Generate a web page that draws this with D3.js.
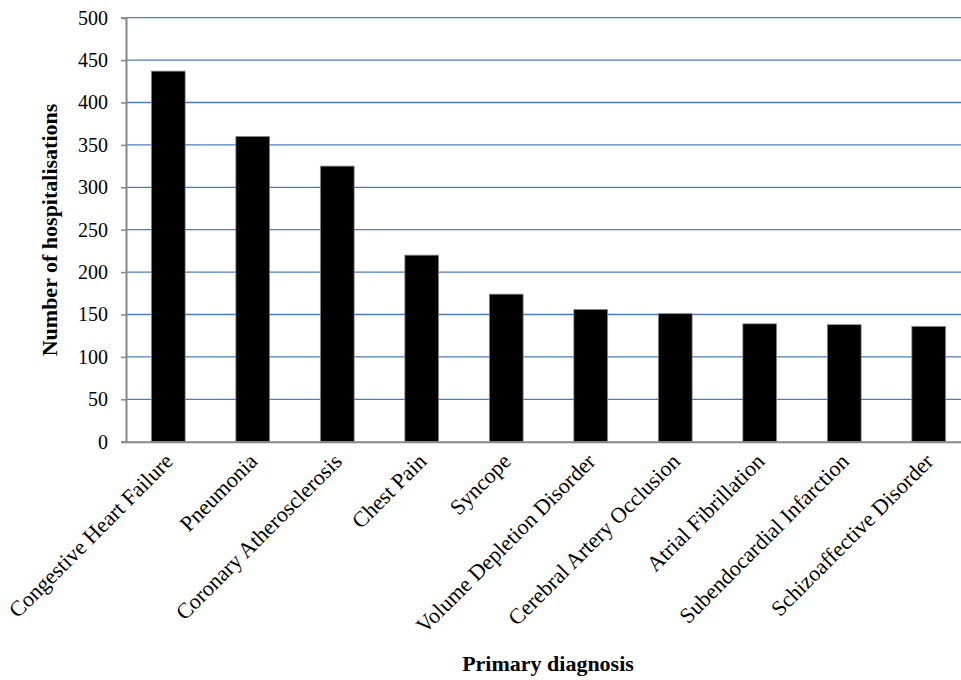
<!DOCTYPE html>
<html><head><meta charset="utf-8">
<script src="https://cdn.jsdelivr.net/npm/d3@7"></script>
<style>html,body{margin:0;padding:0;background:#fff;overflow:hidden} text{font-family:"Liberation Serif","Times New Roman",serif}</style>
</head><body>
<svg id="c" width="961" height="680"></svg>
<script>
const categories = ["Congestive Heart Failure","Pneumonia","Coronary Atherosclerosis","Chest Pain","Syncope","Volume Depletion Disorder","Cerebral Artery Occlusion","Atrial Fibrillation","Subendocardial Infarction","Schizoaffective Disorder"];
const values = [437, 360, 325, 220, 174, 156, 151, 139, 138, 136];
const yTicks = [0,50,100,150,200,250,300,350,400,450,500];

const svg = d3.select("#c");
const pLeft = 126, pRight = 971, pTop = 17.7, pBottom = 441.7;
const x = d3.scaleBand().domain(categories).range([pLeft, pRight]).paddingInner(0.6).paddingOuter(0.3);
const y = d3.scaleLinear().domain([0, 500]).range([pBottom, pTop]);
const font = '"Liberation Serif","Times New Roman",serif';

// gridlines
svg.append("g").selectAll("line").data(yTicks.filter(d => d > 0)).join("line")
  .attr("x1", pLeft).attr("x2", pRight)
  .attr("y1", d => y(d)).attr("y2", d => y(d))
  .attr("stroke", "#4a7ebb").attr("stroke-width", 1.3);

// bars
svg.append("g").selectAll("rect").data(values).join("rect")
  .attr("x", (d, i) => x(categories[i]))
  .attr("y", d => y(d))
  .attr("width", x.bandwidth())
  .attr("height", d => y(0) - y(d))
  .attr("fill", "#000").attr("stroke", "#8c8c8c").attr("stroke-width", 0.8);

// y axis
const yAxis = d3.axisLeft(y).tickValues(yTicks).tickSize(5).tickPadding(13);
const gy = svg.append("g").attr("transform", `translate(${pLeft},0)`).call(yAxis);
gy.attr("font-family", null);
gy.select(".domain").attr("stroke", "#868686").attr("stroke-width", 2);
gy.selectAll(".tick line").attr("stroke", "#868686").attr("stroke-width", 1.5);
gy.selectAll(".tick text").style("font-family", font).attr("font-size", 20).attr("fill", "#000");

// x axis
const xAxis = d3.axisBottom(x).tickSize(0).tickPadding(0);
const gx = svg.append("g").attr("transform", `translate(0,${pBottom})`).call(xAxis);
gx.attr("font-family", null);
gx.select(".domain").attr("stroke", "#868686").attr("stroke-width", 2);
gx.selectAll(".tick text")
  .style("font-family", font).attr("font-size", 22).attr("fill", "#000")
  .attr("text-anchor", "end").attr("dy", null).attr("y", 0)
  .attr("transform", "translate(6,21) rotate(-45)");

// axis titles
svg.append("text").attr("transform", "translate(57,230) rotate(-90)")
  .attr("text-anchor", "middle").style("font-family", font).attr("font-weight", "bold")
  .attr("font-size", 22).text("Number of hospitalisations");
svg.append("text").attr("x", 548).attr("y", 671)
  .attr("text-anchor", "middle").style("font-family", font).attr("font-weight", "bold")
  .attr("font-size", 22).text("Primary diagnosis");
</script>
</body></html>
